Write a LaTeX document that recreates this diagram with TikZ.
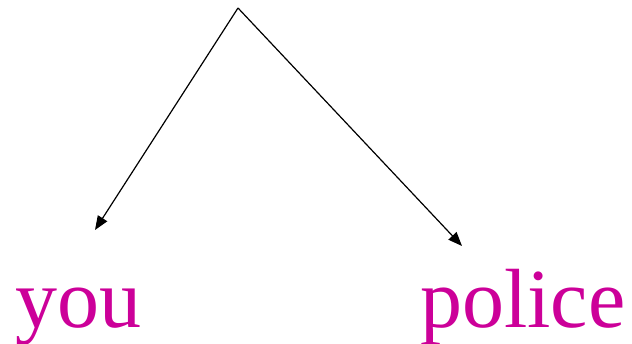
\documentclass[tikz,border=0pt]{standalone}
\usepackage{fontspec}
\setmainfont{Liberation Serif}
\usepackage{xcolor}
\usetikzlibrary{arrows.meta,positioning}
\definecolor{wordpink}{HTML}{CC0099}

\begin{document}
\begin{tikzpicture}[
    x=1pt, y=-1pt,
    word/.style={
        inner sep=0pt,
        anchor=base west,
        text=wordpink,
        font=\fontsize{84}{84}\selectfont
    },
    branch/.style={
        -{Triangle[length=14pt,width=11pt]},
        line width=1.2pt,
        draw=black
    }
]
    % Rahmen
    \useasboundingbox (0,0) rectangle (632,344);

    % Wurzel und Pfeilspitzen
    \coordinate (root) at (238,8);
    \coordinate (you_tip) at (95,230);
    \coordinate (police_tip) at (462,246);

    % Woerter
    \node[word] (you) at (15,328) {you};
    \node[word] (police) at (420,328) {police};

    % Kanten
    \draw[branch] (root) -- (you_tip);
    \draw[branch] (root) -- (police_tip);

\end{tikzpicture}
\end{document}
